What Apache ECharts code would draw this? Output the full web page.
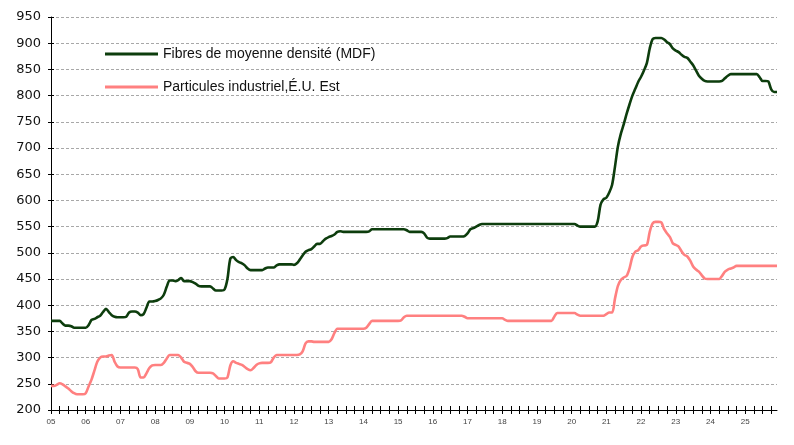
<!DOCTYPE html>
<html>
<head>
<meta charset="utf-8">
<script src="https://cdn.jsdelivr.net/npm/echarts@6/dist/echarts.min.js"></script>
<style>html,body{margin:0;padding:0;background:#fff}#c{width:794px;height:445px}</style>
</head>
<body>
<div id="c"></div>
<script>
var yearLabels = ['05','06','07','08','09','10','11','12','13','14','15','16','17','18','19','20','21','22','23','24','25'];
var seriesNames = ['Fibres de moyenne densité (MDF)', 'Particules industriel,É.U. Est'];

// monthly values, Jan 2005 - Dec 2025 (one row per year)
var mdf = [
  370,370,370,370,365,361,361,360,357,357,357,357,
  357,362,372,374,377,380,387,393,387,381,378,377,
  377,377,378,386,388,388,386,381,383,395,407,407,
  408,410,413,420,435,447,447,446,448,452,446,446,
  446,444,441,437,436,436,436,436,432,428,428,428,
  430,450,489,492,486,482,480,476,470,467,467,467,
  467,467,470,472,472,472,476,478,478,478,478,478,
  477,480,487,495,502,505,507,512,517,517,522,527,
  530,532,535,540,541,540,540,540,540,540,540,540,
  540,540,541,545,545,545,545,545,545,545,545,545,
  545,545,545,543,540,540,540,540,540,537,529,527,
  527,527,527,527,527,528,531,531,531,531,531,532,
  537,545,547,550,553,555,555,555,555,555,555,555,
  555,555,555,555,555,555,555,555,555,555,555,555,
  555,555,555,555,555,555,555,555,555,555,555,555,
  555,555,552,550,550,550,550,550,550,560,592,602,
  605,615,630,665,703,727,745,765,783,800,813,826,
  836,848,862,890,908,910,910,910,907,902,898,890,
  886,883,878,874,872,865,858,848,838,832,828,827,
  827,827,827,827,828,833,838,841,841,841,841,841,
  841,841,841,841,841,835,828,828,827,812,807,807
];
var particules = [
  246,246,248,251,249,245,241,236,232,230,230,230,
  232,245,258,275,292,300,302,302,304,305,292,283,
  281,281,281,281,281,281,278,262,262,270,280,285,
  286,286,286,290,298,305,305,305,305,300,292,290,
  288,282,274,271,271,271,271,271,270,265,260,260,
  260,262,285,293,290,288,286,282,278,276,280,286,
  289,290,290,290,291,300,305,305,305,305,305,305,
  305,305,306,312,327,331,331,330,330,330,330,330,
  330,335,347,355,355,355,355,355,355,355,355,355,
  355,357,364,370,370,370,370,370,370,370,370,370,
  370,371,377,380,380,380,380,380,380,380,380,380,
  380,380,380,380,380,380,380,380,380,380,380,378,
  375,375,375,375,375,375,375,375,375,375,375,375,
  375,372,370,370,370,370,370,370,370,370,370,370,
  370,370,370,370,370,370,378,385,385,385,385,385,
  385,385,382,380,380,380,380,380,380,380,380,380,
  383,386,386,413,437,448,453,456,470,492,502,505,
  512,514,515,540,556,559,559,558,545,537,530,518,
  515,512,503,496,493,485,474,468,464,457,451,450,
  450,450,450,450,456,464,468,470,472,475,475,475,
  475,475,475,475,475,475,475,475,475,475,475,475
];

var categories = [];
yearLabels.forEach(function (y) {
  for (var m = 1; m <= 12; m++) categories.push(y + '-' + m);
});

var chart = echarts.init(document.getElementById('c'), null, {renderer: 'canvas'});
var yBase = {
  type: 'value', min: 200, max: 950, interval: 50
};
chart.setOption({
  animation: false,
  backgroundColor: '#ffffff',
  grid: {left: 51, right: 17, top: 17, bottom: 35, containLabel: false},
  legend: {
    orient: 'vertical', left: 100, top: 42, itemGap: 19, itemTextGap: 5,
    itemWidth: 53, itemHeight: 3, icon: 'rect',
    textStyle: {fontFamily: 'Liberation Sans, Arial', fontSize: 14, color: '#111'},
    data: seriesNames
  },
  xAxis: [{
    type: 'category', data: categories, boundaryGap: false,
    axisLine: {lineStyle: {color: '#000', width: 1}},
    axisTick: {show: true, interval: 2, length: 4, lineStyle: {color: '#000'}},
    axisLabel: {interval: 11, margin: 8, fontSize: 8, color: '#444', fontFamily: 'Liberation Sans, Arial',
      formatter: function (v) { return v.split('-')[0]; }},
    splitLine: {show: false}
  }, {
    type: 'category', data: categories, boundaryGap: false, position: 'bottom',
    axisLine: {show: false},
    axisTick: {show: true, inside: true, interval: 2, length: 4, lineStyle: {color: '#000'}},
    axisLabel: {show: false}, splitLine: {show: false}
  }],
  yAxis: [Object.assign({}, yBase, {
    axisLine: {show: true, lineStyle: {color: '#000', width: 1}},
    axisTick: {show: true, length: 3, lineStyle: {color: '#000'}},
    axisLabel: {margin: 10, fontSize: 13, color: '#111', fontFamily: 'DejaVu Sans'},
    splitLine: {show: true, lineStyle: {color: '#a8a8a8', type: [3, 2], width: 1}}
  }), Object.assign({}, yBase, {
    position: 'left',
    axisLine: {show: false},
    axisTick: {show: true, inside: true, length: 3, lineStyle: {color: '#000'}},
    axisLabel: {show: false}, splitLine: {show: false}
  })],
  series: [{
    name: seriesNames[0], type: 'line', data: mdf, xAxisIndex: 0, yAxisIndex: 0,
    showSymbol: false, symbol: 'none', smooth: 0.3,
    lineStyle: {color: '#0d3d0d', width: 2.6}, itemStyle: {color: '#0d3d0d'}, z: 3
  }, {
    name: seriesNames[1], type: 'line', data: particules, xAxisIndex: 0, yAxisIndex: 0,
    showSymbol: false, symbol: 'none', smooth: 0.3,
    lineStyle: {color: '#ff8080', width: 2.6}, itemStyle: {color: '#ff8080'}, z: 2
  }]
});
</script>
</body>
</html>
